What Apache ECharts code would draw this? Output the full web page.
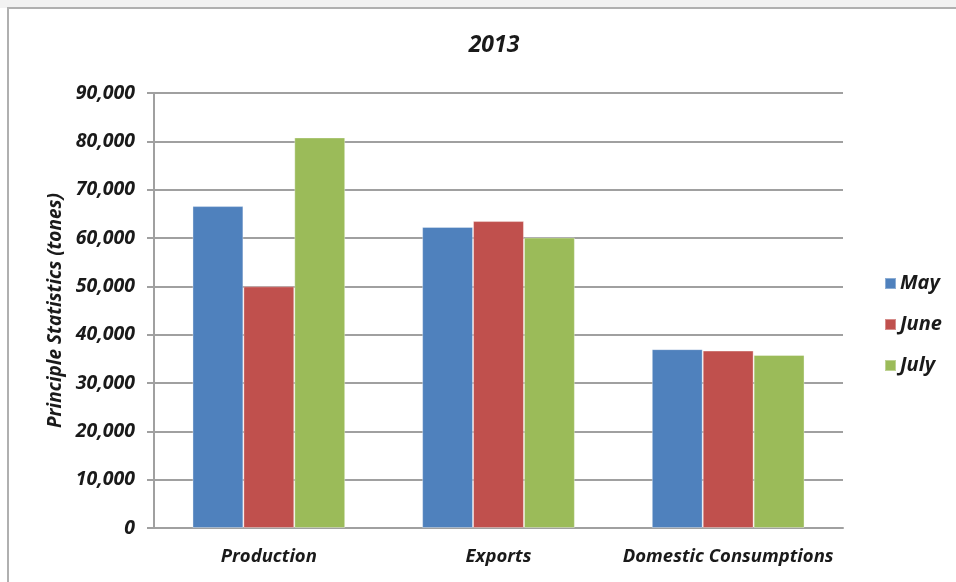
<!DOCTYPE html>
<html>
<head>
<meta charset="utf-8">
<script src="https://cdn.jsdelivr.net/npm/echarts@6/dist/echarts.min.js"></script>
<style>
html,body{margin:0;padding:0;background:#fff;}
#top{position:absolute;left:0;top:0;width:956px;height:8px;background:#f2f2f2;}
#frame{position:absolute;left:7px;top:7px;width:960px;height:590px;border-left:2px solid #b0b0b0;border-top:2px solid #b0b0b0;background:#fff;}
#c{position:absolute;left:0;top:0;width:956px;height:582px;}
</style>
</head>
<body>
<div id="top"></div>
<div id="frame"></div>
<div id="c"></div>
<script>
const categories = ['Production', 'Exports', 'Domestic Consumptions'];
const seriesNames = ['May', 'June', 'July'];
const mayValues = [66600, 62300, 37000];
const juneValues = [50000, 63500, 36700];
const julyValues = [80800, 60100, 35800];
const yTicks = [0, 10000, 20000, 30000, 40000, 50000, 60000, 70000, 80000, 90000];
const colors = ['#4f81bd', '#c0504d', '#9bbb59'];

const FONT = '"Open Sans", sans-serif';
const chart = echarts.init(document.getElementById('c'));
const values = [mayValues, juneValues, julyValues];
const txt = (size) => ({fontFamily: FONT, fontStyle: 'italic', fontWeight: 'bold', fontSize: size, color: '#1a1a1a'});
chart.setOption({
  animation: false,
  title: {
    text: '2013', left: 489, top: 29, textAlign: 'center',
    textStyle: txt(23)
  },
  legend: {
    orient: 'vertical', left: 879, top: 265, itemGap: 14,
    itemWidth: 11, itemHeight: 11, icon: 'rect',
    data: seriesNames,
    textStyle: Object.assign(txt(20), {padding: [0, 0, 0, -1], lineHeight: 27})
  },
  grid: {left: 154, right: 113, top: 93, bottom: 54, containLabel: false},
  xAxis: {
    type: 'category', data: categories,
    axisLine: {lineStyle: {color: '#a0a0a0', width: 2}},
    axisTick: {show: false},
    axisLabel: Object.assign({margin: 19, interval: 0, hideOverlap: false}, txt(18.5))
  },
  yAxis: {
    type: 'value', min: yTicks[0], max: yTicks[yTicks.length - 1], interval: 10000,
    name: 'Principle Statistics (tones)', nameLocation: 'middle', nameGap: 89, nameRotate: 90,
    nameTextStyle: txt(19),
    axisLine: {show: true, lineStyle: {color: '#a0a0a0', width: 2}},
    axisTick: {show: true, length: 7, lineStyle: {color: '#a0a0a0', width: 2}},
    splitLine: {lineStyle: {color: '#a0a0a0', width: 2}},
    axisLabel: Object.assign({margin: 19, formatter: v => v.toLocaleString('en-US')}, txt(19.5))
  },
  series: seriesNames.map((n, i) => ({
    name: n, type: 'bar', data: values[i],
    barGap: '0%', barCategoryGap: '33.5%',
    itemStyle: {color: colors[i], borderColor: 'rgba(255,255,255,0.35)', borderWidth: 1}
  }))
});
</script>
</body>
</html>
